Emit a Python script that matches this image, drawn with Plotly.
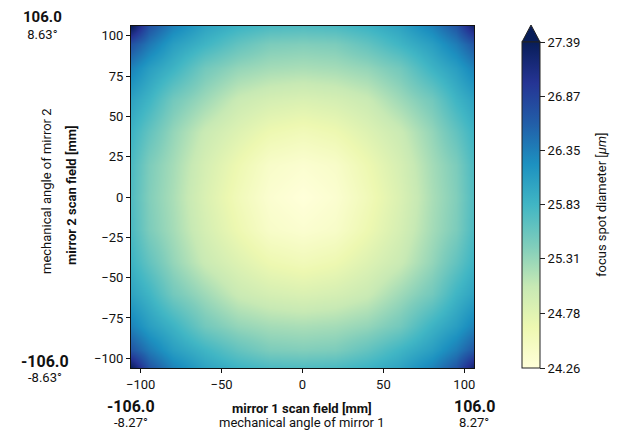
import plotly.graph_objects as go

# scan-field grid positions [mm]
x_mm = [-106, -95, -80, -60, -40, -20, 0, 20, 40, 60, 80, 95, 106]
y_mm = [-106, -95, -80, -60, -40, -20, 0, 20, 40, 60, 80, 95, 106]

# focus spot diameter [um], rows from y=-106 (bottom) to y=106 (top)
row_ym106 = [27.38, 26.70, 26.33, 26.03, 25.86, 25.76, 25.73, 25.76, 25.86, 26.03, 26.33, 26.68, 27.28]
row_ym95 = [26.70, 26.39, 26.08, 25.84, 25.61, 25.45, 25.42, 25.45, 25.61, 25.84, 26.08, 26.37, 26.68]
row_ym80 = [26.33, 26.08, 25.86, 25.51, 25.32, 25.23, 25.20, 25.23, 25.32, 25.51, 25.86, 26.08, 26.33]
row_ym60 = [26.03, 25.84, 25.51, 25.26, 25.01, 24.90, 24.85, 24.90, 25.01, 25.26, 25.51, 25.84, 26.03]
row_ym40 = [25.86, 25.61, 25.32, 25.01, 24.81, 24.64, 24.57, 24.64, 24.81, 25.01, 25.32, 25.61, 25.86]
row_ym20 = [25.76, 25.45, 25.23, 24.90, 24.64, 24.42, 24.35, 24.42, 24.64, 24.90, 25.23, 25.45, 25.76]
row_y0 = [25.73, 25.42, 25.20, 24.85, 24.57, 24.35, 24.26, 24.35, 24.57, 24.85, 25.20, 25.42, 25.73]
row_y20 = [25.76, 25.45, 25.23, 24.90, 24.64, 24.42, 24.35, 24.42, 24.64, 24.90, 25.23, 25.45, 25.76]
row_y40 = [25.86, 25.61, 25.32, 25.01, 24.81, 24.64, 24.57, 24.64, 24.81, 25.01, 25.32, 25.61, 25.86]
row_y60 = [26.03, 25.84, 25.51, 25.26, 25.01, 24.90, 24.85, 24.90, 25.01, 25.26, 25.51, 25.84, 26.03]
row_y80 = [26.33, 26.08, 25.86, 25.51, 25.32, 25.23, 25.20, 25.23, 25.32, 25.51, 25.86, 26.08, 26.33]
row_y95 = [26.72, 26.41, 26.08, 25.84, 25.61, 25.45, 25.42, 25.45, 25.61, 25.84, 26.08, 26.37, 26.68]
row_y106 = [27.42, 26.72, 26.33, 26.03, 25.86, 25.76, 25.73, 25.76, 25.86, 26.03, 26.33, 26.68, 27.28]

z_rows = [row_ym106, row_ym95, row_ym80, row_ym60, row_ym40, row_ym20, row_y0,
          row_y20, row_y40, row_y60, row_y80, row_y95, row_y106]

cbar_ticks = [24.26, 24.78, 25.31, 25.83, 26.35, 26.87, 27.39]
cbar_ticktext = ["24.26", "24.78", "25.31", "25.83", "26.35", "26.87", "27.39"]
z_min, z_max = 24.26, 27.39

ylgnbu = [
    [0.0, "#ffffd9"], [0.125, "#edf8b1"], [0.25, "#c7e9b4"], [0.375, "#7fcdbb"],
    [0.5, "#41b6c4"], [0.625, "#1d91c0"], [0.75, "#225ea8"], [0.875, "#253494"],
    [1.0, "#081d58"],
]

OFF = 8  # default page margin of the browser body
W, H = 618 - OFF, 433 - OFF
L, R, T, B = 131 - OFF, 474 - OFF, 26 - OFF, 368 - OFF  # plot area in figure pixels
pw, ph = R - L, B - T


def px(x):  # x in screenshot pixels -> paper fraction
    return (x - OFF - L) / pw


def py(y):  # y in screenshot pixels -> paper fraction
    return (B - (y - OFF)) / ph


FONT = "Roboto"
INK = "#111"

fig = go.Figure()
fig.add_trace(go.Heatmap(
    x=x_mm, y=y_mm, z=z_rows,
    zmin=z_min, zmax=z_max,
    colorscale=ylgnbu, zsmooth="best",
    colorbar=dict(
        x=px(522), xanchor="left", xpad=0,
        y=0, yanchor="bottom", ypad=0,
        len=368 - 42, lenmode="pixels",
        thickness=18, thicknessmode="pixels",
        outlinewidth=1, outlinecolor="#222",
        tickvals=cbar_ticks, ticktext=cbar_ticktext,
        ticks="outside", ticklen=5, tickcolor="#222",
        tickfont=dict(family=FONT, size=13, color=INK),
    ),
))

# extend arrow on top of the colorbar
fig.add_shape(type="path", xref="paper", yref="paper",
              path=f"M {px(522)} {py(42)} L {px(540)} {py(42)} L {px(531)} {py(25)} Z",
              fillcolor="#081d58", line=dict(color="#222", width=1))

axis_common = dict(
    showline=True, linecolor=INK, linewidth=1, mirror=True,
    ticks="outside", ticklen=4, tickcolor=INK,
    tickfont=dict(family=FONT, size=13, color=INK),
    showgrid=False, zeroline=False,
)
fig.update_xaxes(range=[-106, 106], tickvals=[-100, -50, 0, 50, 100], **axis_common)
fig.update_yaxes(range=[-106, 106], tickvals=[-100, -75, -50, -25, 0, 25, 50, 75, 100], **axis_common)

ann = []


def add(text, x, y, size, bold=False, angle=0):
    ann.append(dict(text=f"<b>{text}</b>" if bold else text, x=px(x), y=py(y),
                    xref="paper", yref="paper", showarrow=False, textangle=angle,
                    font=dict(family=FONT, size=size, color=INK),
                    xanchor="center", yanchor="middle", borderpad=0))


add("mirror 1 scan field [mm]", 302, 408, 13, bold=True)
add("mechanical angle of mirror 1", 302, 423, 13)
add("-106.0", 131, 407, 16, bold=True)
add("-8.27°", 131, 422, 13)
add("106.0", 474, 407, 16, bold=True)
add("8.27°", 474, 422, 13)
add("<b><span style='font-size:15px'>106.0</span></b><br>8.63°", 42, 25, 13)
add("-106.0", 45, 361, 16, bold=True)
add("-8.63°", 45, 377, 13)
add("mirror 2 scan field [mm]", 72, 195, 13, bold=True, angle=-90)
add("mechanical angle of mirror 2", 47, 191, 13, angle=-90)
add("focus spot diameter [<i>μm</i>]", 601, 205, 13, angle=-90)

fig.update_layout(
    width=W, height=H,
    margin=dict(l=L, r=W - R, t=T, b=H - B, autoexpand=False),
    paper_bgcolor="white", plot_bgcolor="white",
    annotations=ann,
    font=dict(family=FONT),
)

fig.write_html("out.html")
